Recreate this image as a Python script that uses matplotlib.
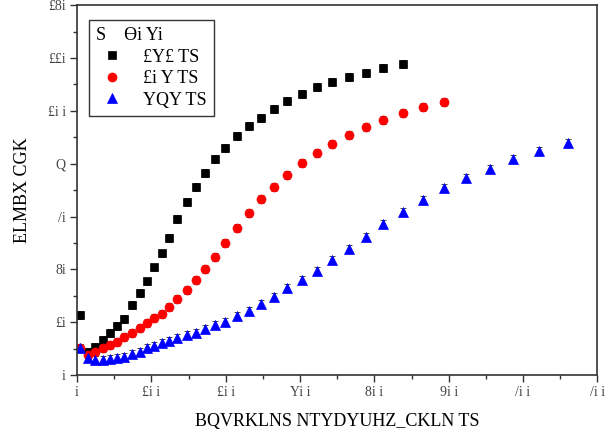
import matplotlib
matplotlib.use("Agg")
import matplotlib.pyplot as plt
from matplotlib.ticker import MultipleLocator

plt.rcParams['font.family'] = ['Liberation Serif', 'DejaVu Serif']

# time grid shared by all series
x_all = [4, 15, 24, 35, 44, 54, 63, 74, 85, 94, 104, 114, 124, 135, 148, 160,
         172, 186, 199, 215, 232, 248, 265, 283, 303, 323, 343, 366, 389, 412,
         439, 466, 494, 524, 555, 587, 621, 660]

y_black = [22.6, 8.7, 10.6, 13.2, 15.8, 18.4, 21.2, 26.5, 30.9, 35.4, 40.7,
           46.0, 52.0, 59.2, 65.5, 71.2, 76.5, 81.8, 85.9, 90.4, 94.2, 97.2,
           100.6, 103.6, 106.3, 108.9, 110.8, 112.7, 114.2, 116.1, 117.6]
y_red = [10.2, 7.6, 8.7, 10.2, 11.4, 12.5, 14.3, 15.9, 17.8, 19.7, 21.6, 23.1,
         25.7, 28.8, 32.2, 35.9, 40.1, 44.6, 49.9, 55.6, 61.3, 66.6, 71.1,
         75.7, 80.2, 84.0, 87.4, 90.8, 93.8, 96.5, 99.1, 101.4, 103.3]
y_blue = [10.1, 6.3, 5.7, 5.7, 5.9, 6.3, 6.9, 7.9, 8.8, 10.1, 11.0, 12.0,
          13.0, 13.9, 15.1, 16.0, 17.3, 18.9, 20.2, 22.3, 24.3, 26.9, 29.6,
          32.8, 35.9, 39.5, 43.5, 47.6, 52.1, 57.1, 61.8, 66.2, 70.8, 74.5,
          77.9, 81.7, 84.8, 87.8]
err = 1.5

labels = ["£Y£ TS", "£i Y TS", "YQY TS"]
legend_title = "S    ϴi Yi"
x_ticklabels = ["i", "£i i", "£i i", "Yi i", "8i i", "9i i", "/i i", "/i i"]
y_ticklabels = ["i", "£i", "8i", "/i", "Q", "£i i", "££i", "£8i"]
xlabel = "BQVRKLNS NTYDYUHZ_CKLN TS"
ylabel = "ELMBX CGK"

fig = plt.figure(figsize=(6.07, 4.34), dpi=100)
ax = fig.add_axes([0.127, 0.136, 0.857, 0.852])

series = [
    (y_black, 's', 'black', 6.0),
    (y_red, 'o', 'red', 6.5),
    (y_blue, '^', 'blue', 7.0),
]
handles = []
for (ys, mk, col, ms), lab in zip(series, labels):
    xs = x_all[:len(ys)]
    h = ax.errorbar(xs, ys, yerr=err, fmt=mk, color=col, ms=ms,
                    ecolor='black', elinewidth=0.8, capsize=2.5,
                    markeredgewidth=0.5, markeredgecolor=col, label=lab)
    handles.append(h)

ax.set_xlim(0, 700)
ax.set_ylim(0, 140)
ax.xaxis.set_minor_locator(MultipleLocator(50))
ax.yaxis.set_minor_locator(MultipleLocator(10))
ax.set_xticks(range(0, 701, 100))
ax.set_xticklabels(x_ticklabels, fontsize=10, color='#444444')
ax.set_yticks(range(0, 141, 20))
ax.set_yticklabels(y_ticklabels, fontsize=10, color='#444444')
ax.tick_params(which='both', direction='out', top=False, right=False,
               width=1.0, color='#333333')
ax.tick_params(which='major', length=5, pad=3)
ax.tick_params(which='minor', length=3)
for sp in ax.spines.values():
    sp.set_linewidth(1.2)
    sp.set_color('#333333')

ax.set_xlabel(xlabel, fontsize=13, labelpad=10)
ax.set_ylabel(ylabel, fontsize=13, labelpad=12)

leg = ax.legend(handles=[h[0] for h in handles], labels=labels,
                title=legend_title, loc='upper left',
                bbox_to_anchor=(0.005, 0.985), fontsize=13,
                title_fontsize=13, frameon=True, fancybox=False,
                edgecolor='black', handletextpad=0.8, borderpad=0.4,
                labelspacing=0.25, handlelength=1.8)
leg.get_frame().set_linewidth(1.0)
leg._legend_box.align = "left"

fig.savefig("out.png", dpi=100)
